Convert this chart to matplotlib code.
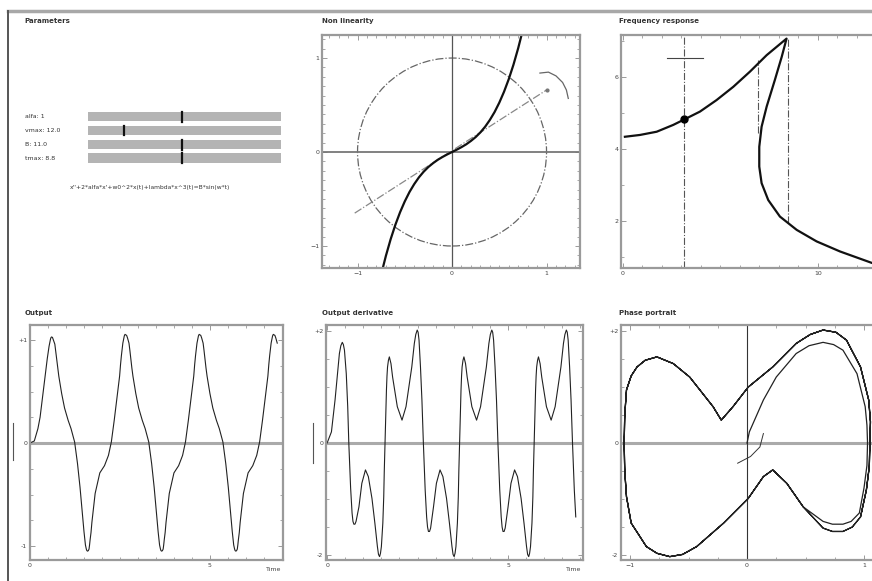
#!/usr/bin/env python3
"""
Duffing oscillator demo panel: parameters, non linearity, frequency response,
output, output derivative and phase portrait.
"""
import matplotlib
matplotlib.use('Agg')
import matplotlib.pyplot as plt
from matplotlib.patches import Circle, Rectangle
from matplotlib.lines import Line2D
from matplotlib.ticker import MultipleLocator

W, H = 872, 581

# ---------------- data ----------------
slider_labels = ['alfa: 1', 'vmax: 12.0', 'B: 11.0', 'tmax: 8.8']
slider_values = [0.5, 0.2, 0.5, 0.5]
equation = "x''+2*alfa*x'+w0^2*x(t)+lambda*x^3(t)=B*sin(w*t)"

# non linearity (restoring force)
nl_x = [-0.80, -0.75, -0.70, -0.65, -0.60, -0.55, -0.50, -0.45, -0.40, -0.35, -0.30,
        -0.25, -0.20, -0.15, -0.10, -0.05, 0.00, 0.05, 0.10, 0.15, 0.20, 0.25, 0.30,
        0.35, 0.40, 0.45, 0.50, 0.55, 0.60, 0.65, 0.70, 0.75, 0.80]
nl_y = [-1.526, -1.303, -1.105, -0.929, -0.775, -0.641, -0.525, -0.425, -0.341, -0.269,
        -0.209, -0.159, -0.118, -0.082, -0.052, -0.025, 0.000, 0.025, 0.052, 0.082, 0.118,
        0.159, 0.209, 0.269, 0.341, 0.425, 0.525, 0.641, 0.775, 0.929, 1.105, 1.303, 1.526]
nl_circle_radius = 1.0
nl_ray_x = [-1.03, 1.00]
nl_ray_y = [-0.65, 0.66]
nl_arc_x = [0.93, 1.02, 1.10, 1.17, 1.21, 1.23]
nl_arc_y = [0.84, 0.85, 0.81, 0.74, 0.66, 0.57]

# frequency response
freq_x = [0.10, 0.87, 1.73, 2.58, 3.14, 3.95, 4.80, 5.66, 6.51, 7.37, 8.39,
          8.14, 7.79, 7.37, 7.11, 6.99, 6.99, 7.11, 7.45, 8.05, 8.91, 9.93, 11.13, 12.77, 13.30]
freq_y = [4.34, 4.39, 4.48, 4.67, 4.82, 5.04, 5.36, 5.73, 6.15, 6.61, 7.07,
          6.56, 5.92, 5.18, 4.62, 4.06, 3.51, 3.05, 2.58, 2.12, 1.75, 1.43, 1.15, 0.83, 0.76]
freq_point = (3.14, 4.82)
freq_jump_x = [6.94, 8.46]
freq_jump_top = [6.47, 7.07]
freq_jump_bottom = [4.44, 1.94]
freq_bar_x = [2.24, 4.12]
freq_bar_y = 6.54

# time response: start-up, first cycle, two steady cycles and the tail
start_time = [0.00, 0.12, 0.22, 0.28, 0.34, 0.38, 0.42, 0.45, 0.48, 0.53, 0.57, 0.585, 0.60]
start_out = [0.00, 0.02, 0.14, 0.25, 0.42, 0.53, 0.65, 0.74, 0.82, 0.94, 1.01, 1.025, 1.03]
start_der = [0.00, 0.20, 0.77, 1.18, 1.60, 1.74, 1.80, 1.76, 1.66, 1.24, 0.65, 0.32, 0.00]

cycle1_time = [0.625, 0.65, 0.69, 0.715, 0.74, 0.77, 0.80, 0.88, 0.96, 1.06, 1.14, 1.24, 1.32,
               1.39, 1.42, 1.45, 1.475, 1.50, 1.54, 1.565, 1.58, 1.60, 1.62, 1.64, 1.655, 1.67,
               1.695, 1.72, 1.765, 1.81, 1.94, 2.07, 2.18, 2.26, 2.34, 2.41, 2.45, 2.49, 2.515,
               2.54, 2.58, 2.62, 2.64, 2.66]
cycle2_time = [2.685, 2.71, 2.75, 2.775, 2.80, 2.83, 2.86, 2.94, 3.02, 3.12, 3.20, 3.30, 3.38,
               3.45, 3.48, 3.51, 3.535, 3.56, 3.60, 3.625, 3.64, 3.66, 3.68, 3.70, 3.715, 3.73,
               3.755, 3.78, 3.825, 3.87, 4.00, 4.13, 4.24, 4.32, 4.40, 4.47, 4.51, 4.55, 4.575,
               4.60, 4.64, 4.68, 4.70, 4.72]
cycle3_time = [4.745, 4.77, 4.81, 4.835, 4.86, 4.89, 4.92, 5.00, 5.08, 5.18, 5.26, 5.36, 5.44,
               5.51, 5.54, 5.57, 5.595, 5.62, 5.66, 5.685, 5.70, 5.72, 5.74, 5.76, 5.775, 5.79,
               5.815, 5.84, 5.885, 5.93, 6.06, 6.19, 6.30, 6.38, 6.46, 6.53, 6.57, 6.61, 6.635,
               6.66, 6.70, 6.74, 6.76, 6.78]

cycle1_out = [1.025, 1.00, 0.96, 0.89, 0.82, 0.73, 0.65, 0.48, 0.34, 0.22, 0.14, 0.01, -0.20,
              -0.43, -0.55, -0.66, -0.77, -0.86, -0.99, -1.03, -1.045, -1.05, -1.045, -1.03,
              -0.99, -0.94, -0.87, -0.77, -0.63, -0.49, -0.29, -0.22, -0.12, 0.01, 0.22, 0.42,
              0.54, 0.65, 0.76, 0.85, 0.97, 1.04, 1.055, 1.05]
cycle1_der = [-0.40, -0.80, -1.25, -1.40, -1.45, -1.45, -1.40, -1.14, -0.72, -0.48, -0.60,
              -0.99, -1.43, -1.85, -1.99, -2.03, -1.97, -1.85, -1.43, -0.96, -0.50, 0.00, 0.50,
              0.95, 1.20, 1.36, 1.48, 1.54, 1.42, 1.18, 0.65, 0.41, 0.65, 1.00, 1.36, 1.78, 1.94,
              2.02, 1.98, 1.84, 1.36, 0.77, 0.38, 0.00]
steady_out = [1.045, 1.02, 0.97, 0.90, 0.82, 0.73, 0.65, 0.48, 0.34, 0.22, 0.14, 0.01, -0.20,
              -0.43, -0.55, -0.66, -0.77, -0.86, -0.99, -1.03, -1.045, -1.05, -1.045, -1.03,
              -0.99, -0.94, -0.87, -0.77, -0.63, -0.49, -0.29, -0.22, -0.12, 0.01, 0.22, 0.42,
              0.54, 0.65, 0.76, 0.85, 0.97, 1.04, 1.055, 1.05]
steady_der = [-0.42, -0.84, -1.32, -1.50, -1.58, -1.58, -1.52, -1.14, -0.72, -0.48, -0.60,
              -0.99, -1.43, -1.85, -1.99, -2.03, -1.97, -1.85, -1.43, -0.96, -0.50, 0.00, 0.50,
              0.95, 1.20, 1.36, 1.48, 1.54, 1.42, 1.18, 0.65, 0.41, 0.65, 1.00, 1.36, 1.78, 1.94,
              2.02, 1.98, 1.84, 1.36, 0.77, 0.38, 0.00]

tail_time = [6.805, 6.83, 6.87]
tail_out = [1.045, 1.02, 0.97]
tail_der = [-0.42, -0.84, -1.32]

phase_start_x = [-0.08, 0.03, 0.11, 0.14]
phase_start_y = [-0.36, -0.24, -0.07, 0.17]

TICK_COLOR = '#444444'
SPINE_COLOR = '#9a9a9a'


def add_px_axes(fig, left, top, right, bottom):
    """Axes placed with pixel coordinates measured from the top-left corner"""
    return fig.add_axes([left / W, 1 - bottom / H, (right - left) / W, (bottom - top) / H])


def style_axes(ax):
    for s in ax.spines.values():
        s.set_color(SPINE_COLOR)
        s.set_linewidth(1.6)
    ax.tick_params(which='both', direction='in', top=True, right=True,
                   colors=SPINE_COLOR, labelcolor=TICK_COLOR, labelsize=4.5, pad=2)
    ax.tick_params(which='major', length=3.5, width=0.7)
    ax.tick_params(which='minor', length=2, width=0.6)


def title(fig, x, y, text):
    fig.text(x / W, 1 - y / H, text, fontsize=5, fontweight='bold', color='#333333',
             ha='left', va='center')


def main():
    time = start_time + cycle1_time + cycle2_time + cycle3_time + tail_time
    output = start_out + cycle1_out + steady_out + steady_out + tail_out
    derivative = start_der + cycle1_der + steady_der + steady_der + tail_der

    fig = plt.figure(figsize=(W / 100, H / 100), dpi=100)
    fig.patch.set_facecolor('white')

    # outer frame
    fig.add_artist(Line2D([8 / W, 1], [1 - 11 / H, 1 - 11 / H], color='#a8a8a8', lw=2.5))
    fig.add_artist(Line2D([8 / W, 8 / W], [0, 1 - 11 / H], color='#555555', lw=1.4))

    # ---- Parameters ----
    title(fig, 24, 21, 'Parameters')
    centers = [116.5, 130.5, 144.5, 158]
    for label, val, cy in zip(slider_labels, slider_values, centers):
        fig.text(25 / W, 1 - cy / H, label, fontsize=4.5, color='#333333', va='center')
        fig.add_artist(Rectangle((88 / W, 1 - (cy + 4.8) / H), (281 - 88) / W, 9.6 / H,
                                 transform=fig.transFigure, fc='#b4b4b4', ec='none'))
        tx = (88 + val * (281 - 88) - 3) / W
        fig.add_artist(Line2D([tx, tx], [1 - (cy + 5) / H, 1 - (cy - 5) / H],
                              color='#111111', lw=1.6))
    fig.text(150 / W, 1 - 188 / H, equation, fontsize=4.3, color='#333333',
             ha='center', va='center')

    # ---- Non linearity ----
    title(fig, 322, 21, 'Non linearity')
    ax = add_px_axes(fig, 322, 35, 580, 268)
    style_axes(ax)
    ax.axhline(0, color='#777777', lw=1.3)
    ax.axvline(0, color='#555555', lw=0.9)
    ax.add_patch(Circle((0, 0), nl_circle_radius, fill=False, ls='-.', ec='#666666', lw=0.9))
    ax.plot(nl_ray_x, nl_ray_y, ls='-.', color='#888888', lw=0.9)
    ax.plot(nl_ray_x[-1], nl_ray_y[-1], 'o', ms=2, color='#777777')
    ax.plot(nl_arc_x, nl_arc_y, color='#666666', lw=0.9)
    ax.plot(nl_x, nl_y, color='#111111', lw=1.6)
    ax.set_xlim(-1.376, 1.354)
    ax.set_ylim(-1.234, 1.245)
    ax.set_xticks([-1, 0, 1])
    ax.set_yticks([-1, 0, 1])
    ax.xaxis.set_minor_locator(MultipleLocator(0.1))
    ax.yaxis.set_minor_locator(MultipleLocator(0.1))

    # ---- Frequency response ----
    title(fig, 619, 21, 'Frequency response')
    ax = add_px_axes(fig, 621, 35, 879, 268)
    style_axes(ax)
    ax.axvline(freq_point[0], color='#555555', ls='-.', lw=0.8)
    for jx, jt, jb in zip(freq_jump_x, freq_jump_top, freq_jump_bottom):
        ax.plot([jx, jx], [jb, jt], color='#555555', ls='-.', lw=0.8)
    ax.plot(freq_bar_x, [freq_bar_y, freq_bar_y], color='#444444', lw=0.8)
    ax.plot(freq_x, freq_y, color='#111111', lw=1.6)
    ax.plot(*freq_point, 'o', ms=5, color='black')
    ax.set_xlim(-0.1, 13.13)
    ax.set_ylim(0.69, 7.17)
    ax.set_xticks([0, 10])
    ax.set_yticks([2, 4, 6])
    ax.xaxis.set_minor_locator(MultipleLocator(1))
    ax.yaxis.set_minor_locator(MultipleLocator(1))

    # ---- Output ----
    title(fig, 25, 313, 'Output')
    ax = add_px_axes(fig, 30, 325, 283, 560)
    style_axes(ax)
    ax.axhline(0, color='#aaaaaa', lw=2.2)
    ax.plot(time, output, color='#222222', lw=0.8)
    ax.set_xlim(0, 7.03)
    ax.set_ylim(-1.136, 1.146)
    ax.set_xticks([0, 5])
    ax.set_yticks([-1, 0, 1])
    ax.set_yticklabels(['-1', '0', '+1'])
    ax.xaxis.set_minor_locator(MultipleLocator(0.5))
    ax.yaxis.set_minor_locator(MultipleLocator(0.25))
    ax.text(0.965, -0.03, 'Time', transform=ax.transAxes, fontsize=4.5,
            color=TICK_COLOR, ha='center', va='top')
    fig.add_artist(Line2D([13 / W, 13 / W], [1 - 460 / H, 1 - 423 / H], color='#555555', lw=0.8))

    # ---- Output derivative ----
    title(fig, 322, 313, 'Output derivative')
    ax = add_px_axes(fig, 326, 325, 583, 560)
    style_axes(ax)
    ax.axhline(0, color='#aaaaaa', lw=2.2)
    ax.plot(time, derivative, color='#222222', lw=0.8)
    ax.set_xlim(-0.03, 7.07)
    ax.set_ylim(-2.09, 2.11)
    ax.set_xticks([0, 5])
    ax.set_yticks([-2, 0, 2])
    ax.set_yticklabels(['-2', '0', '+2'])
    ax.xaxis.set_minor_locator(MultipleLocator(0.5))
    ax.yaxis.set_minor_locator(MultipleLocator(0.5))
    ax.text(0.965, -0.03, 'Time', transform=ax.transAxes, fontsize=4.5,
            color=TICK_COLOR, ha='center', va='top')
    fig.add_artist(Line2D([313 / W, 313 / W], [1 - 463 / H, 1 - 423 / H], color='#555555', lw=0.8))

    # ---- Phase portrait ----
    title(fig, 619, 313, 'Phase portrait')
    ax = add_px_axes(fig, 621, 325, 879, 560)
    style_axes(ax)
    ax.axhline(0, color='#aaaaaa', lw=2.2)
    ax.axvline(0, color='#333333', lw=0.8)
    ax.plot(output, derivative, color='#222222', lw=0.9)
    ax.plot(phase_start_x, phase_start_y, color='#333333', lw=0.7)
    ax.set_xlim(-1.077, 1.128)
    ax.set_ylim(-2.09, 2.11)
    ax.set_xticks([-1, 0, 1])
    ax.set_yticks([-2, 0, 2])
    ax.set_yticklabels(['-2', '0', '+2'])
    ax.xaxis.set_minor_locator(MultipleLocator(0.25))
    ax.yaxis.set_minor_locator(MultipleLocator(0.5))

    fig.savefig('out.png', dpi=100, facecolor='white')
    plt.close(fig)


if __name__ == '__main__':
    main()
